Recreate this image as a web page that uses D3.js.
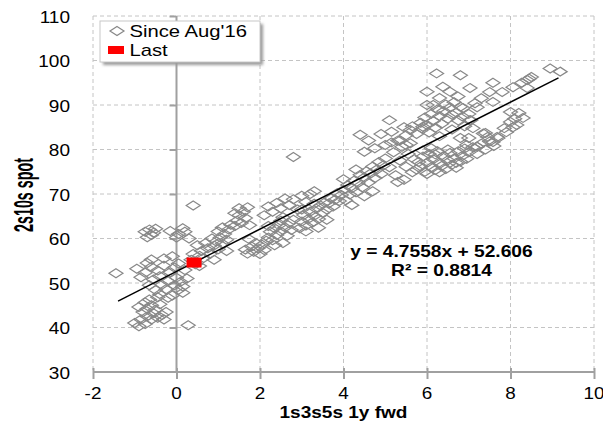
<!DOCTYPE html>
<html><head><meta charset="utf-8">
<script src="https://cdn.jsdelivr.net/npm/d3@7/dist/d3.min.js"></script>
<style>body{margin:0;background:#fff}svg{display:block}text{font-family:"Liberation Sans",Arial,sans-serif}</style>
</head><body><svg id="c" width="603" height="424"></svg>
<script>
const xTicks = [-2, 0, 2, 4, 6, 8, 10];
const yTicks = [30, 40, 50, 60, 70, 80, 90, 100, 110];
const seriesNames = ["Since Aug'16", "Last"];
const xLabel = "1s3s5s  1y  fwd";
const yLabel = "2s10s spot";
const slope = 4.7558, intercept = 52.606, r2 = 0.8814;
const trendRange = [-1.4, 9.15];
const lastX = [0.42], lastY = [54.6];

// Since Aug'16 points, x (1s3s5s 1y fwd)
const sinceX = [
-1.0,-0.9,-0.85,-0.75,-0.7,-0.6,-0.55,-0.45,-0.35,-0.3,-0.8,-0.7,-0.6,-0.5,-0.4,-0.65,-0.9,-0.45,-0.25,-0.75,0.28,
-1.45,-0.95,-0.85,-0.75,-0.7,-0.6,-0.55,-0.45,-0.4,-0.35,-0.3,-0.25,-0.2,-0.15,-0.1,-0.05,0.0,0.05,0.1,0.15,-0.5,-0.6,-0.3,-0.1,0.05,0.2,0.15,-0.2,-0.65,-0.4,0.25,-0.05,
-0.75,-0.65,-0.6,-0.55,-0.7,-0.5,-0.15,0.05,0.15,0.3,0.0,0.2,0.4,
0.35,0.45,0.55,0.65,0.6,0.75,0.8,0.9,0.95,1.0,1.05,1.1,1.15,1.2,1.25,0.85,0.7,1.0,1.3,1.1,0.5,0.9,0.4,0.55,1.2,
1.4,1.45,1.5,1.55,1.6,1.65,1.7,1.5,1.75,1.4,
1.65,1.7,1.8,1.85,1.9,1.95,2.0,2.05,2.1,2.15,1.75,
2.2,2.25,2.3,2.35,2.4,2.45,2.5,2.55,2.6,2.65,2.7,2.75,2.8,2.35,2.5,2.2,
2.1,2.2,2.3,2.4,2.5,2.6,2.7,2.8,2.9,3.0,3.1,3.2,2.55,3.3,2.8,
2.95,3.0,3.05,3.1,3.15,3.2,3.25,3.3,3.35,3.4,3.45,3.5,3.55,3.6,3.65,3.7,3.75,3.8,3.85,3.9,3.95,3.1,3.4,3.6,3.0,3.3,
4.0,4.05,4.1,4.15,4.2,4.25,4.3,4.35,4.4,4.45,4.5,4.55,4.6,4.65,4.7,4.75,4.8,4.85,4.9,4.95,4.2,4.5,4.0,4.3,4.7,
4.5,4.75,4.9,5.0,5.15,5.3,5.45,5.1,4.6,4.4,
5.0,5.1,5.2,5.25,5.35,5.4,5.45,5.5,5.55,5.6,5.65,5.7,5.3,5.15,
5.75,5.8,5.85,5.9,5.95,6.0,6.05,6.1,6.15,6.2,6.25,6.3,6.35,6.4,6.45,6.5,6.55,6.6,6.65,6.7,6.75,6.8,6.85,6.9,6.95,6.0,6.3,6.5,6.2,6.7,6.1,5.9,
7.0,7.1,7.2,7.3,7.4,7.5,7.6,7.45,7.2,6.95,7.7,7.35,
5.35,5.5,5.6,5.65,5.75,5.85,5.9,5.95,6.0,6.05,6.1,6.15,6.2,6.25,6.3,6.35,6.4,6.45,6.5,6.55,6.6,6.65,6.7,6.75,6.8,6.85,6.9,7.0,7.05,7.1,7.15,6.0,6.3,6.6,6.86,5.5,7.0,5.9,
6.0,6.15,6.3,6.38,6.55,6.74,6.23,6.8,7.03,7.5,7.8,7.58,7.58,8.06,8.27,8.4,8.5,8.45,8.4,8.95,9.19,7.3,7.2,
7.9,8.0,8.06,8.15,8.0,8.2,8.3,7.4,7.58,7.68,7.03,6.8,7.2,7.85,8.1
];
// Since Aug'16 points, y (2s10s spot)
const sinceY = [
41.0,40.3,41.8,40.8,42.5,41.8,43.2,42.2,42.8,41.8,43.5,44.2,45.0,44.0,45.2,46.3,44.6,46.8,43.5,45.6,40.5,
52.2,53.2,51.3,52.3,54.5,53.6,50.8,52.8,51.5,49.6,53.9,48.6,50.4,52.4,47.2,49.5,51.2,48.5,50.3,49.2,48.4,55.3,55.5,56.0,54.4,52.9,47.8,46.7,49.5,47.5,51.0,53.5,
61.5,62.0,60.8,61.3,60.3,62.2,61.7,61.0,62.3,60.0,60.2,61.5,67.4,
55.2,54.2,56.1,55.6,57.2,57.8,56.5,58.4,59.3,57.6,60.2,58.8,61.0,59.7,62.0,60.0,59.0,61.6,63.1,62.5,58.5,55.2,56.5,53.8,57.2,
62.8,64.0,65.2,63.5,66.0,64.6,67.0,66.8,63.0,65.7,
57.5,56.6,58.2,57.0,59.0,57.8,56.5,58.6,57.4,59.5,59.8,
60.2,61.5,59.6,62.3,60.8,63.0,61.6,59.0,62.5,60.6,63.5,61.9,64.2,58.5,64.0,62.8,
65.2,67.2,66.0,68.0,66.8,69.0,67.5,68.8,66.5,69.6,68.2,70.0,64.8,70.6,78.3,
62.3,63.8,65.3,62.9,64.4,66.0,63.6,65.1,66.7,64.4,67.4,65.8,68.1,66.5,67.9,69.0,67.2,68.7,70.2,68.4,69.8,61.6,62.4,64.2,66.5,67.8,
70.9,68.6,72.0,69.9,71.3,73.0,70.4,72.5,74.3,71.5,73.7,75.1,72.6,74.6,76.2,73.6,75.5,77.2,74.5,76.4,67.5,69.5,73.3,75.5,70.6,
79.5,80.3,83.5,81.0,84.0,82.0,85.0,86.6,82.0,83.3,
78.0,76.0,79.4,74.2,77.5,80.6,73.2,76.1,79.0,81.4,74.9,77.8,72.7,81.6,
75.5,77.2,76.2,78.4,75.0,77.0,79.0,76.0,77.8,75.4,79.6,77.1,76.3,78.5,75.6,77.6,79.2,76.6,78.0,75.9,79.6,77.3,78.6,80.2,77.9,74.5,74.9,80.0,78.9,77.0,80.3,79.8,
79.4,80.5,79.0,81.3,80.0,81.8,80.8,82.8,80.6,81.0,82.6,83.6,
82.0,83.2,84.4,85.2,83.5,86.0,84.6,87.2,85.5,83.8,88.0,86.4,84.9,89.0,87.5,85.8,88.6,90.1,86.9,89.4,87.8,90.6,88.3,86.5,89.6,87.4,85.2,88.0,86.6,84.8,90.4,90.0,83.0,84.5,89.3,81.0,82.6,85.1,
93.0,90.0,91.6,94.1,93.0,91.9,97.1,96.7,93.8,92.9,92.9,95.0,90.7,94.0,95.0,95.6,96.3,95.9,93.8,98.2,97.5,91.5,89.5,
83.9,86.2,85.0,85.5,88.4,88.2,87.1,83.7,81.7,82.8,86.6,82.6,80.6,84.8,86.9
];

const svg = d3.select("#c");
const x = d3.scaleLinear().domain([-2, 10]).range([93, 594]);
const y = d3.scaleLinear().domain([30, 110]).range([372, 16]);
const SX = 1.18;
const grid = "#c4c4c4", axisCol = "#a0a0a0", markCol = "#888888";

function stext(g, px, py, str, size, anchor, bold, sx) {
  return g.append("text")
    .attr("transform", `translate(${px},${py}) scale(${sx || SX},1)`)
    .attr("text-anchor", anchor).attr("font-size", size)
    .attr("font-weight", bold ? "bold" : "normal").attr("fill", "#000").text(str);
}

// gridlines
const gg = svg.append("g");
xTicks.filter(t => t !== 0).forEach(t => gg.append("line")
  .attr("x1", x(t)).attr("x2", x(t)).attr("y1", y(110)).attr("y2", y(30))
  .attr("stroke", grid).attr("stroke-dasharray", "4,3").attr("stroke-width", 1));
yTicks.filter(t => t !== 30).forEach(t => gg.append("line")
  .attr("x1", x(-2)).attr("x2", x(10)).attr("y1", y(t)).attr("y2", y(t))
  .attr("stroke", grid).attr("stroke-dasharray", "4,3").attr("stroke-width", 1));

// axes
const xAxis = d3.axisBottom(x).tickValues(xTicks).tickSize(7).tickFormat("");
const xa = svg.append("g").attr("transform", `translate(0,${y(30)})`).call(xAxis);
xa.select(".domain").attr("stroke", axisCol).attr("stroke-width", 2).attr("d", `M${x(-2)},0H${x(10)}`);
xa.selectAll(".tick line").attr("stroke", axisCol).attr("stroke-width", 2).attr("y1", -4);

const yAxis = d3.axisLeft(y).tickValues(yTicks.filter(t => t !== 30)).tickSize(7).tickFormat("");
const ya = svg.append("g").attr("transform", `translate(${x(0)},0)`).call(yAxis);
ya.select(".domain").attr("stroke", axisCol).attr("stroke-width", 2).attr("d", `M0,${y(110)}V${y(30)}`);
ya.selectAll(".tick line").attr("stroke", axisCol).attr("stroke-width", 2);

// tick labels
xTicks.forEach(t => stext(svg, x(t), 399, String(t), 16, "middle", false));
yTicks.forEach(t => stext(svg, 70, y(t) + 6.5, String(t), 17, "end", false, 1.12));

// points
const pts = sinceX.map((v, i) => [v, sinceY[i]]);
const dia = "M0,-4.5L7,0L0,4.5L-7,0Z";
svg.append("g").selectAll("path").data(pts).join("path")
  .attr("d", dia).attr("transform", d => `translate(${x(d[0])},${y(d[1])})`)
  .attr("fill", "none").attr("stroke", markCol).attr("stroke-width", 1.2);

// trend line
svg.append("line")
  .attr("x1", x(trendRange[0])).attr("y1", y(slope * trendRange[0] + intercept))
  .attr("x2", x(trendRange[1])).attr("y2", y(slope * trendRange[1] + intercept))
  .attr("stroke", "#000").attr("stroke-width", 1.4);

// last
svg.append("g").selectAll("rect").data(lastX.map((v, i) => [v, lastY[i]])).join("rect")
  .attr("x", d => x(d[0]) - 7.5).attr("y", d => y(d[1]) - 5).attr("width", 15).attr("height", 10)
  .attr("fill", "#ff0000");

// equation
stext(svg, 441.5, 257, `y = ${slope}x  + ${intercept}`, 16, "middle", true, 1.2);
stext(svg, 441.5, 276, `R² = ${r2}`, 16, "middle", true, 1.2);

// axis titles
stext(svg, 343.5, 418, xLabel, 17, "middle", true, 1.12);
svg.append("text").attr("transform", `translate(33,195) rotate(-90) scale(0.53,1)`)
  .attr("text-anchor", "middle").attr("font-size", 27).attr("font-weight", "bold").text(yLabel);

// legend
const defs = svg.append("defs");
defs.append("filter").attr("id", "sh").attr("x", "-10%").attr("y", "-20%").attr("width", "130%").attr("height", "150%")
  .append("feGaussianBlur").attr("stdDeviation", 1.6);
const lg = svg.append("g");
lg.append("rect").attr("x", 103).attr("y", 24).attr("width", 160).attr("height", 41)
  .attr("fill", "#9a9a9a").attr("filter", "url(#sh)");
lg.append("rect").attr("x", 100).attr("y", 21).attr("width", 160).attr("height", 41)
  .attr("fill", "#fff").attr("stroke", "#c8c8c8").attr("stroke-width", 1);
lg.append("path").attr("d", dia).attr("transform", "translate(117,31)")
  .attr("fill", "none").attr("stroke", markCol).attr("stroke-width", 1.2);
stext(lg, 129.5, 36.5, seriesNames[0], 17, "start", false, 1.19);
lg.append("rect").attr("x", 108).attr("y", 46).attr("width", 16).attr("height", 8).attr("fill", "#ff0000");
stext(lg, 129.5, 55.5, seriesNames[1], 17, "start", false, 1.19);
</script></body></html>
